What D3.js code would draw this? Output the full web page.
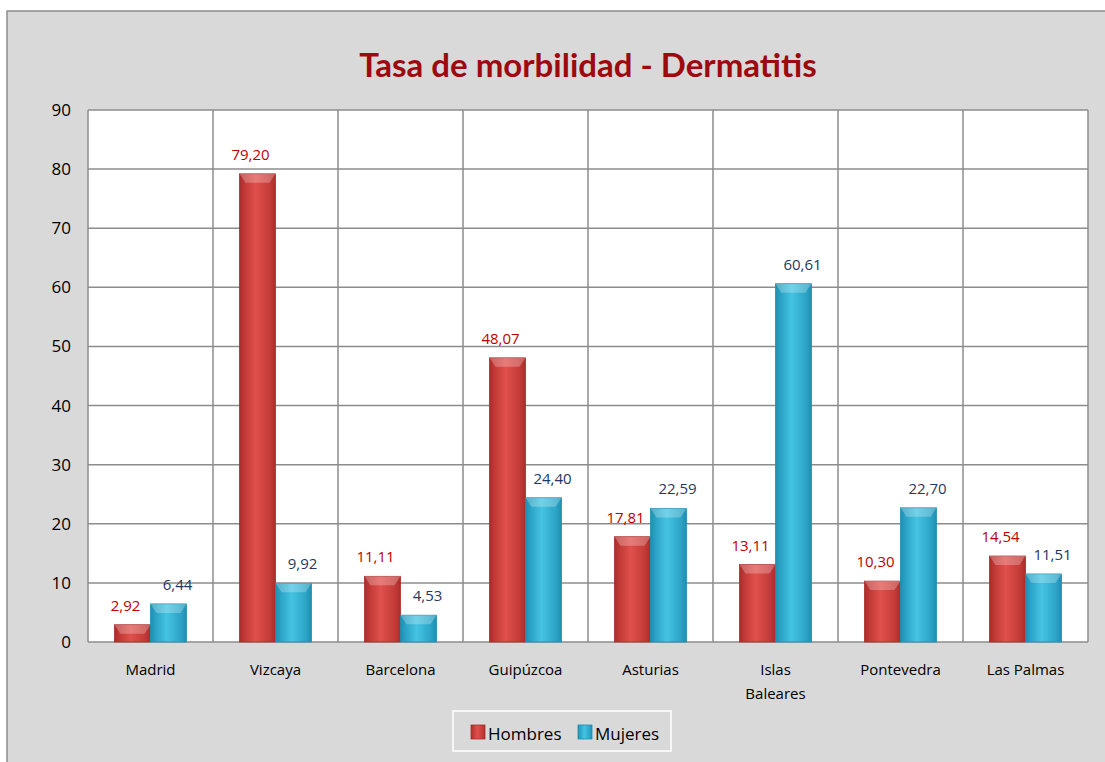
<!DOCTYPE html>
<html>
<head>
<meta charset="utf-8">
<script src="https://cdn.jsdelivr.net/npm/d3@7"></script>
<style>
body{margin:0;background:#fff;}
svg text{font-family:"Open Sans","Liberation Sans",sans-serif;}
</style>
</head>
<body>
<div id="chart"></div>
<script>
(function(){

var width = 1105,
	height = 762;

// data
var provincias = ["Madrid","Vizcaya","Barcelona","Guipúzcoa","Asturias","Islas Baleares","Pontevedra","Las Palmas"];
var hombres = [2.92,79.20,11.11,48.07,17.81,13.11,10.30,14.54];
var mujeres = [6.44,9.92,4.53,24.40,22.59,60.61,22.70,11.51];
var series = ["Hombres","Mujeres"];
var yticks = [0,10,20,30,40,50,60,70,80,90];

var plot = {left:88, top:110, right:1088, bottom:642};

var X = d3.scaleBand().domain(provincias).range([plot.left,plot.right]);
var Y = d3.scaleLinear().domain([0,90]).range([plot.bottom,plot.top]);
var S = d3.scaleBand().domain(series).range([0,72]);

var colors = {Hombres:["#a92d2b","#e0504c","#c23a37"], Mujeres:["#1f8fb0","#45c3e2","#2ba3c6"]};
var labelcolors = {Hombres:"#c00000", Mujeres:"#1f3864"};
var labeloffset = {Hombres:-7, Mujeres:9};

var svg = d3.select("#chart").append("svg")
	.attr("width",width)
	.attr("height",height);

var defs = svg.append("defs");
series.forEach(function(s){
	var g = defs.append("linearGradient").attr("id","grad_"+s).attr("x1","0").attr("x2","1").attr("y1","0").attr("y2","0");
	g.append("stop").attr("offset","0%").attr("stop-color",colors[s][0]);
	g.append("stop").attr("offset","15%").attr("stop-color",colors[s][2]);
	g.append("stop").attr("offset","45%").attr("stop-color",colors[s][1]);
	g.append("stop").attr("offset","85%").attr("stop-color",colors[s][2]);
	g.append("stop").attr("offset","100%").attr("stop-color",colors[s][0]);
});

// background box
svg.append("rect")
	.attr("x",7).attr("y",11)
	.attr("width",width).attr("height",height)
	.style("fill","#d9d9d9")
	.style("stroke","#8c8c8c")
	.style("stroke-width",1.5);

// title
svg.append("text")
	.attr("x",588).attr("y",77)
	.attr("text-anchor","middle")
	.style("font-family","Lato, 'Open Sans', sans-serif")
	.style("font-weight","bold")
	.style("font-size","33px")
	.style("fill","#9c0a0f")
	.text("Tasa de morbilidad - Dermatitis");

// plot area
svg.append("rect")
	.attr("x",plot.left).attr("y",plot.top)
	.attr("width",plot.right-plot.left).attr("height",plot.bottom-plot.top)
	.style("fill","#fff");

svg.append("g").selectAll("line.h").data(yticks).enter().append("line")
	.attr("x1",plot.left).attr("x2",plot.right)
	.attr("y1",function(d){return Y(d)}).attr("y2",function(d){return Y(d)})
	.style("stroke","#8c8c8c").style("stroke-width",1.5);

var vx = provincias.map(function(d){return X(d)}).concat([plot.right]);
svg.append("g").selectAll("line.v").data(vx).enter().append("line")
	.attr("x1",function(d){return d}).attr("x2",function(d){return d})
	.attr("y1",plot.top).attr("y2",plot.bottom)
	.style("stroke","#8c8c8c").style("stroke-width",1.5);

// y axis labels
svg.append("g").selectAll("text").data(yticks).enter().append("text")
	.attr("x",71)
	.attr("y",function(d){return Y(d)+6})
	.attr("text-anchor","end")
	.style("font-size","17px")
	.style("fill","#000")
	.text(function(d){return d});

// x axis labels
var xl = svg.append("g").selectAll("text").data(provincias).enter().append("text")
	.attr("x",function(d){return X(d)+X.bandwidth()/2})
	.attr("y",675)
	.attr("text-anchor","middle")
	.style("font-size","15px")
	.style("fill","#000");
xl.each(function(d){
	var parts = d=="Islas Baleares" ? ["Islas","Baleares"] : [d];
	var t = d3.select(this);
	parts.forEach(function(p,i){
		t.append("tspan").attr("x",X(d)+X.bandwidth()/2).attr("dy",i==0?0:24).text(p);
	});
});

// bars
var rows = [];
provincias.forEach(function(p,i){
	rows.push({prov:p, serie:"Hombres", value:hombres[i]});
	rows.push({prov:p, serie:"Mujeres", value:mujeres[i]});
});

var bw = S.bandwidth();
var bars = svg.append("g").selectAll("g").data(rows).enter().append("g")
	.attr("transform",function(d){return "translate("+(X(d.prov)+X.bandwidth()/2-36+S(d.serie))+",0)"});

bars.append("rect")
	.attr("x",0).attr("width",bw)
	.attr("y",function(d){return Y(d.value)})
	.attr("height",function(d){return plot.bottom-Y(d.value)})
	.style("fill",function(d){return "url(#grad_"+d.serie+")"})
	.style("stroke",function(d){return colors[d.serie][0]})
	.style("stroke-width",0.8);

// bevel on top
bars.append("path")
	.attr("d",function(d){
		var y0 = Y(d.value), h = Math.min(9, plot.bottom-y0);
		return "M0,"+y0+"L"+bw+","+y0+"L"+(bw-6)+","+(y0+h)+"L6,"+(y0+h)+"Z";
	})
	.style("fill","#fff")
	.style("opacity",0.25);

// value labels
bars.append("text")
	.attr("x",function(d){return bw/2+labeloffset[d.serie]})
	.attr("y",function(d){return Y(d.value)-14})
	.attr("text-anchor","middle")
	.style("font-size","15px")
	.style("fill",function(d){return labelcolors[d.serie]})
	.text(function(d){return d.value.toFixed(2).replace(".",",")});

// legend
var leg = svg.append("g");
leg.append("rect")
	.attr("x",453).attr("y",711).attr("width",218).attr("height",40)
	.style("fill","#d9d9d9").style("stroke","#fff").style("stroke-width",1.5);

var lx = [471,578];
series.forEach(function(s,i){
	leg.append("rect")
		.attr("x",lx[i]).attr("y",725).attr("width",14).attr("height",14)
		.style("fill","url(#grad_"+s+")")
		.style("stroke",colors[s][0]).style("stroke-width",0.8);
	leg.append("text")
		.attr("x",lx[i]+17).attr("y",740)
		.style("font-size","17px")
		.style("fill","#000")
		.text(s);
});

})()
</script>
</body>
</html>
